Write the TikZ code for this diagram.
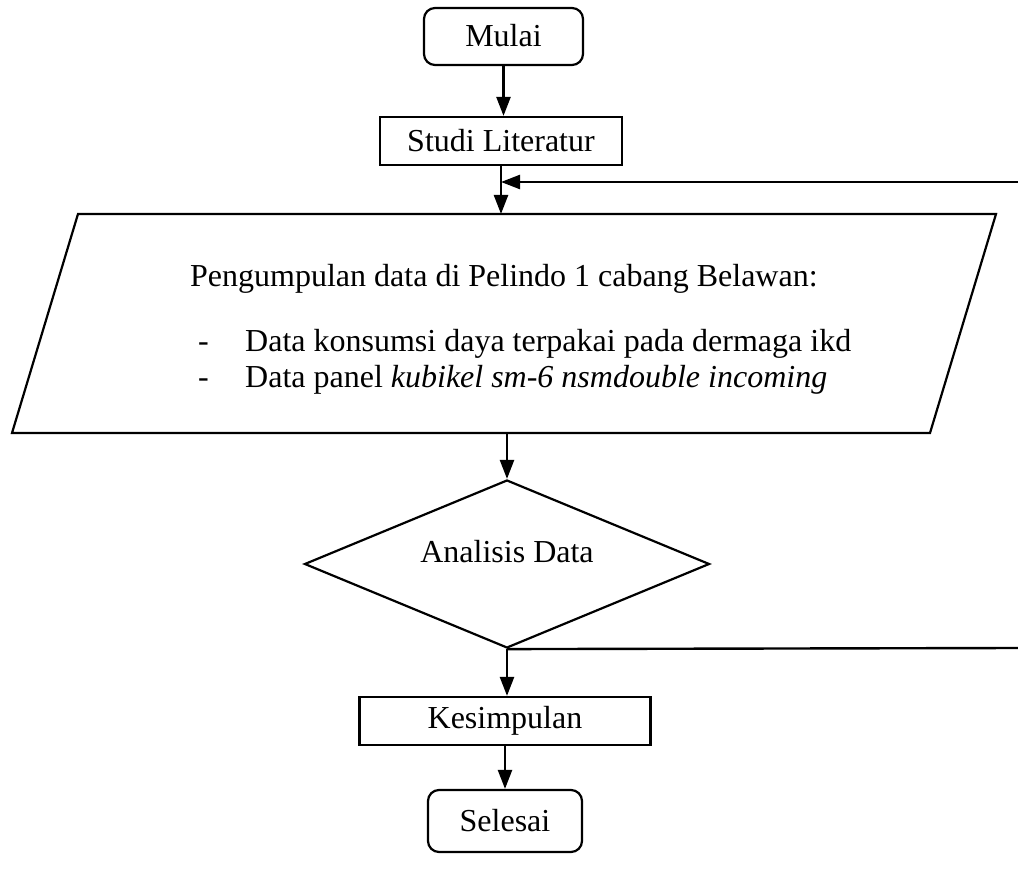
\documentclass[tikz,border=0pt]{standalone}
\usepackage{fontspec}
\setmainfont{Liberation Serif}
\usetikzlibrary{shapes.geometric,arrows.meta}
\begin{document}
\begin{tikzpicture}[x=1pt,y=-1pt,
  font=\fontsize{32}{38}\selectfont,
  box/.style={draw, line width=2.2pt, inner sep=0pt},
  term/.style={box, rounded corners=11pt},
  arr/.style={line width=2.4pt, -{Triangle[length=19pt,width=14pt]}},
  ln/.style={line width=2.4pt},
  txt/.style={anchor=base west, inner sep=0pt}]
\useasboundingbox (0,0) rectangle (1018,877);
\node[term, minimum width=159pt, minimum height=57pt, text depth=0pt, text height=20pt] (mulai) at (503.5,36.5) {Mulai};
\node[box, minimum width=242pt, minimum height=48pt] (studi) at (501,141) {Studi Literatur};
\coordinate (pTL) at (78,214);
\coordinate (pTR) at (996,214);
\coordinate (pBR) at (930,433);
\coordinate (pBL) at (12,433);
\draw[line width=2.2pt, line join=miter] (pTL) -- (pTR) -- (pBR) -- (pBL) -- cycle;
\coordinate (ptop) at (studi.south |- pTL);
\node[txt] (t1) at (190,287) {Pengumpulan data di Pelindo 1 cabang Belawan:};
\node[txt] (b1) at (198,352) {-};
\node[txt] (t2) at (245,352) {Data konsumsi daya terpakai pada dermaga ikd};
\node[txt] (b2) at (198,388) {-};
\node[txt] (t3) at (245,388) {Data panel \textit{kubikel sm-6 nsmdouble incoming}};
\node[draw, line width=2.2pt, diamond, inner sep=2pt, aspect=2.41, minimum width=405pt, minimum height=168pt] (dia) at (507,564) {};
\coordinate (pbot) at (dia.north |- pBL);
\node (dt) at (507,552) {Analisis Data};
\node[box, minimum width=291pt, minimum height=48pt] (kes) at (505,721) {Kesimpulan};
\node[term, minimum width=154pt, minimum height=62pt] (sel) at (505,821) {Selesai};
\coordinate (r1) at (1018,182);
\coordinate (r2) at (1018,648);
\draw[arr] (mulai.south) -- (mulai.south |- studi.north);
\draw[arr] (studi.south) -- (ptop);
\draw[arr] (r1) -- (r1 -| studi.south);
\draw[arr] (pbot) -- (dia.north);
\draw[ln] (dia.south) -- (r2);
\draw[arr] (dia.south) -- (dia.south |- kes.north);
\draw[arr] (kes.south) -- (kes.south |- sel.north);
\end{tikzpicture}
\end{document}
